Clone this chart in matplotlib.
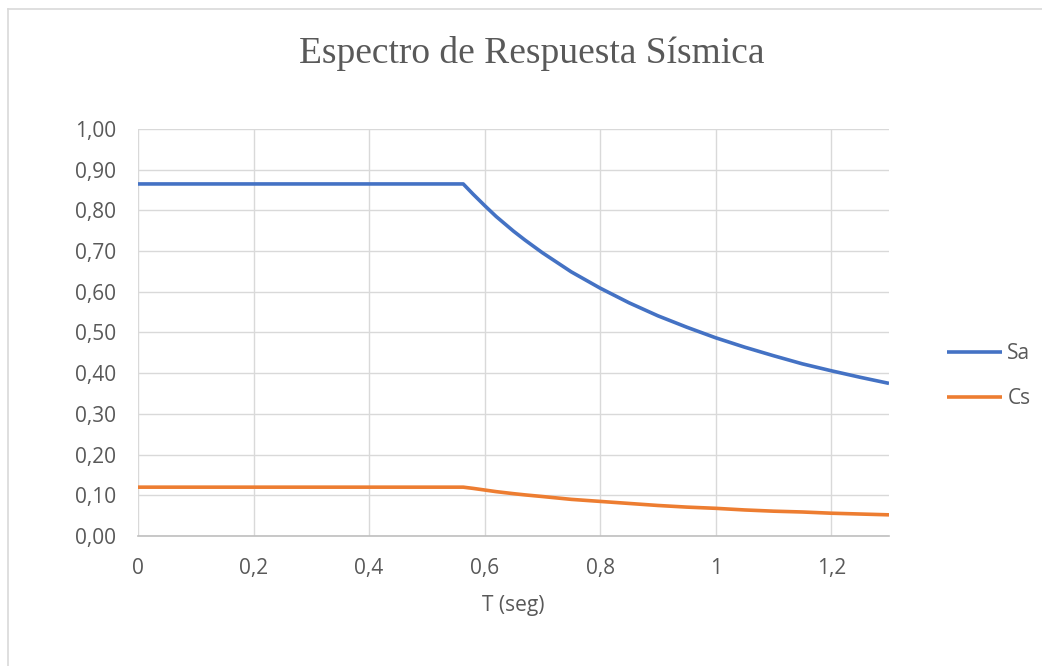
import matplotlib
matplotlib.use("Agg")
import matplotlib.pyplot as plt
from matplotlib.lines import Line2D

# periodo (s) y ordenadas
T = [0, 0.1, 0.2, 0.3, 0.4, 0.5, 0.563, 0.58, 0.6, 0.62, 0.65, 0.67, 0.7, 0.75,
     0.8, 0.85, 0.9, 0.95, 1.0, 1.05, 1.1, 1.15, 1.2, 1.25, 1.3]
Sa = [0.865, 0.865, 0.865, 0.865, 0.865, 0.865, 0.865, 0.840, 0.812, 0.785, 0.749,
      0.727, 0.696, 0.649, 0.609, 0.573, 0.541, 0.513, 0.487, 0.464, 0.443, 0.423,
      0.406, 0.390, 0.375]
Cs = [0.120, 0.120, 0.120, 0.120, 0.120, 0.120, 0.120, 0.117, 0.113, 0.109, 0.104,
      0.101, 0.097, 0.090, 0.085, 0.080, 0.075, 0.071, 0.068, 0.064, 0.061, 0.059,
      0.056, 0.054, 0.052]

x_ticks = [0, 0.2, 0.4, 0.6, 0.8, 1.0, 1.2]
x_labels = ["0", "0,2", "0,4", "0,6", "0,8", "1", "1,2"]
y_ticks = [0, 0.1, 0.2, 0.3, 0.4, 0.5, 0.6, 0.7, 0.8, 0.9, 1.0]
y_labels = ["0,00", "0,10", "0,20", "0,30", "0,40", "0,50", "0,60", "0,70",
            "0,80", "0,90", "1,00"]

W, H = 1042, 666
gris = "#595959"
plt.rcParams["font.family"] = ["Open Sans", "DejaVu Sans"]

fig = plt.figure(figsize=(W / 100, H / 100), dpi=100)
ax = fig.add_axes([138 / W, 1 - 536 / H, (889 - 138) / W, (536 - 129) / H])

ax.plot(T, Sa, color="#4472C4", lw=2.6, label="Sa", solid_joinstyle="round",
        solid_capstyle="butt", zorder=3)
ax.plot(T, Cs, color="#ED7D31", lw=2.6, label="Cs", solid_joinstyle="round",
        solid_capstyle="butt", zorder=3)

ax.set_xlim(0, 1.3)
ax.set_ylim(0, 1.0)
ax.set_xticks(x_ticks)
ax.set_xticklabels(x_labels)
ax.set_yticks(y_ticks)
ax.set_yticklabels(y_labels)
ax.tick_params(length=0, labelsize=15, colors=gris)
ax.tick_params(axis="y", pad=16)
ax.tick_params(axis="x", pad=16)
ax.grid(True, color="#d9d9d9", lw=1.0)
ax.set_axisbelow(True)
for s in ["top", "right", "left"]:
    ax.spines[s].set_visible(False)
ax.spines["bottom"].set_color("#bfbfbf")
ax.spines["bottom"].set_linewidth(1.2)
ax.spines["bottom"].set_zorder(2.5)

ax.set_xlabel("T (seg)", fontsize=15, color=gris, labelpad=11)

fig.text(531.5 / W, 1 - 63 / H, "Espectro de Respuesta Sísmica",
         family="Liberation Serif", fontsize=27, color=gris,
         ha="center", va="baseline")

leg = fig.legend(loc="center left", bbox_to_anchor=(947 / W, 1 - 376 / H),
                 frameon=False, fontsize=15, handlelength=2.65, handletextpad=0.25,
                 labelspacing=1.15, borderpad=0, borderaxespad=0)
for t in leg.get_texts():
    t.set_color(gris)

# borde del area del grafico (solo se ven arriba e izquierda)
fig.add_artist(Line2D([7.5 / W, 7.5 / W], [0, 1 - 8.5 / H], color="#d9d9d9", lw=1.2,
                      transform=fig.transFigure))
fig.add_artist(Line2D([7.5 / W, 1], [1 - 8.5 / H, 1 - 8.5 / H], color="#d9d9d9", lw=1.2,
                      transform=fig.transFigure))

fig.savefig("out.png", dpi=100)
